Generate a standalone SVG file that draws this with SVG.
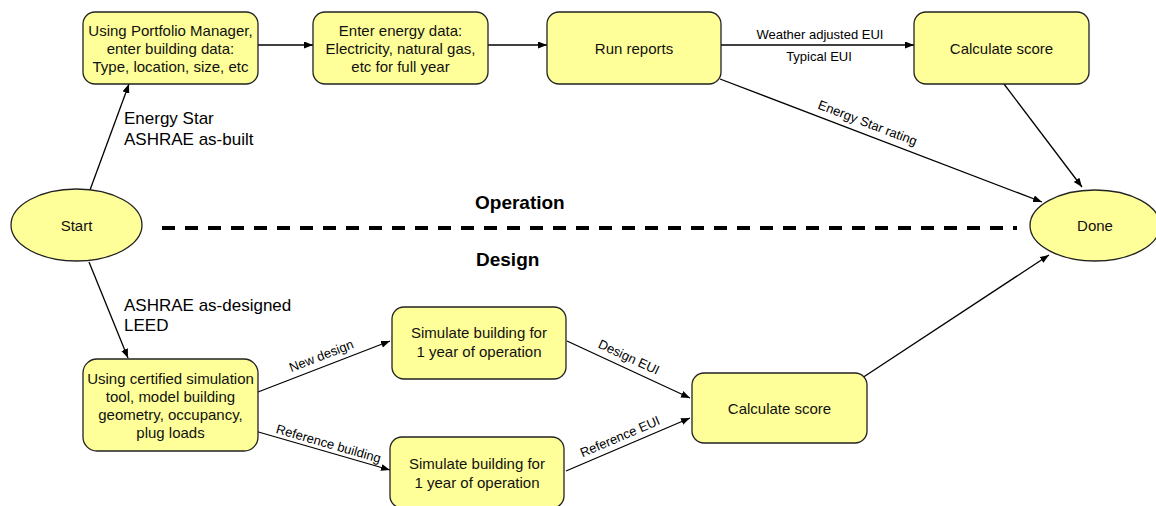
<svg xmlns="http://www.w3.org/2000/svg" width="1156" height="506" viewBox="0 0 1156 506">
  <defs>
    <marker id="arrow" markerUnits="userSpaceOnUse" markerWidth="10" markerHeight="8" refX="9" refY="3.5" orient="auto">
      <path d="M0,0 L9,3.5 L0,7 z" fill="#000"/>
    </marker>
    <style>
      .box { fill: #ffff99; stroke: #222; stroke-width: 1.3; }
      .t { font-family: "Liberation Sans", Arial, sans-serif; font-size: 15px; fill: #111; text-anchor: middle; }
      .lab { font-family: "Liberation Sans", Arial, sans-serif; font-size: 17px; fill: #000; }
      .small { font-family: "Liberation Sans", Arial, sans-serif; font-size: 13px; fill: #000; text-anchor: middle; }
      .head { font-family: "Liberation Sans", Arial, sans-serif; font-size: 19px; font-weight: bold; fill: #000; }
      .edge { stroke: #000; stroke-width: 1.3; fill: none; marker-end: url(#arrow); }
    </style>
  </defs>
  <rect width="1156" height="506" fill="#fff"/>

  <!-- Divider between operation and design paths -->
  <g id="divider">
    <line x1="162" y1="228" x2="1017" y2="228" stroke="#000" stroke-width="4" stroke-dasharray="13 10"/>
    <text class="head" x="475" y="209">Operation</text>
    <text class="head" x="476" y="266">Design</text>
  </g>

  <!-- Connectors -->
  <g id="connectors">
    <line class="edge" x1="258" y1="45" x2="313" y2="45"/>
    <line class="edge" x1="488" y1="45" x2="547" y2="45"/>
    <line class="edge" x1="721" y1="45" x2="914" y2="45"/>
    <line class="edge" x1="720" y1="79" x2="1042" y2="202"/>
    <line class="edge" x1="1004" y1="84" x2="1082" y2="187"/>
    <line class="edge" x1="90" y1="190" x2="129" y2="84"/>
    <line class="edge" x1="89" y1="262" x2="128" y2="358"/>
    <line class="edge" x1="258" y1="392" x2="390" y2="341"/>
    <line class="edge" x1="255" y1="431" x2="390" y2="470"/>
    <line class="edge" x1="567" y1="341" x2="690" y2="398"/>
    <line class="edge" x1="566" y1="471" x2="690" y2="418"/>
    <line class="edge" x1="862" y1="378" x2="1049" y2="255"/>

    <text class="small" x="820" y="39">Weather adjusted EUI</text>
    <text class="small" x="819" y="61">Typical EUI</text>
    <text class="small" transform="translate(863.5,133.6) rotate(20.9)" y="-7">Energy Star rating</text>
    <text class="small" transform="translate(325,365.5) rotate(-21.1)" y="-6">New design</text>
    <text class="small" transform="translate(326,452.7) rotate(16.1)" y="-5">Reference building</text>
    <text class="small" transform="translate(624,367.4) rotate(24.9)" y="-7">Design EUI</text>
    <text class="small" transform="translate(624,446.2) rotate(-23.1)" y="-6">Reference EUI</text>

    <text class="lab" x="124" y="124">Energy Star</text>
    <text class="lab" x="124" y="145">ASHRAE as-built</text>
    <text class="lab" x="124" y="311">ASHRAE as-designed</text>
    <text class="lab" x="124" y="331">LEED</text>
  </g>

  <g id="start">
    <ellipse class="box" cx="76.5" cy="225" rx="65.5" ry="36"/>
    <text class="t" x="76.5" y="231">Start</text>
  </g>

  <g id="done">
    <ellipse class="box" cx="1095" cy="225.5" rx="65" ry="35.5"/>
    <text class="t" x="1095" y="231">Done</text>
  </g>

  <g id="enter-building">
    <rect class="box" x="83" y="12" width="175" height="72" rx="12"/>
    <text class="t" x="170.5" y="36">Using Portfolio Manager,</text>
    <text class="t" x="170.5" y="54">enter building data:</text>
    <text class="t" x="170.5" y="72">Type, location, size, etc</text>
  </g>

  <g id="enter-energy">
    <rect class="box" x="313" y="12" width="175" height="72" rx="12"/>
    <text class="t" x="400.5" y="36">Enter energy data:</text>
    <text class="t" x="400.5" y="54">Electricity, natural gas,</text>
    <text class="t" x="400.5" y="72">etc for full year</text>
  </g>

  <g id="run-reports">
    <rect class="box" x="547" y="12" width="174" height="72" rx="12"/>
    <text class="t" x="634" y="54">Run reports</text>
  </g>

  <g id="calc-operation">
    <rect class="box" x="914" y="12" width="175" height="72" rx="12"/>
    <text class="t" x="1001.5" y="54">Calculate score</text>
  </g>

  <g id="model-building">
    <rect class="box" x="83" y="359" width="175" height="92" rx="14"/>
    <text class="t" x="170.5" y="384">Using certified simulation</text>
    <text class="t" x="170.5" y="402">tool, model building</text>
    <text class="t" x="170.5" y="420">geometry, occupancy,</text>
    <text class="t" x="170.5" y="438">plug loads</text>
  </g>

  <g id="simulate-design">
    <rect class="box" x="392" y="307" width="174" height="72" rx="12"/>
    <text class="t" x="479" y="338">Simulate building for</text>
    <text class="t" x="479" y="357">1 year of operation</text>
  </g>

  <g id="simulate-reference">
    <rect class="box" x="390" y="437" width="174" height="71" rx="12"/>
    <text class="t" x="477" y="469">Simulate building for</text>
    <text class="t" x="477" y="488">1 year of operation</text>
  </g>

  <g id="calc-design">
    <rect class="box" x="692" y="373" width="175" height="70" rx="12"/>
    <text class="t" x="779.5" y="414">Calculate score</text>
  </g>
</svg>
